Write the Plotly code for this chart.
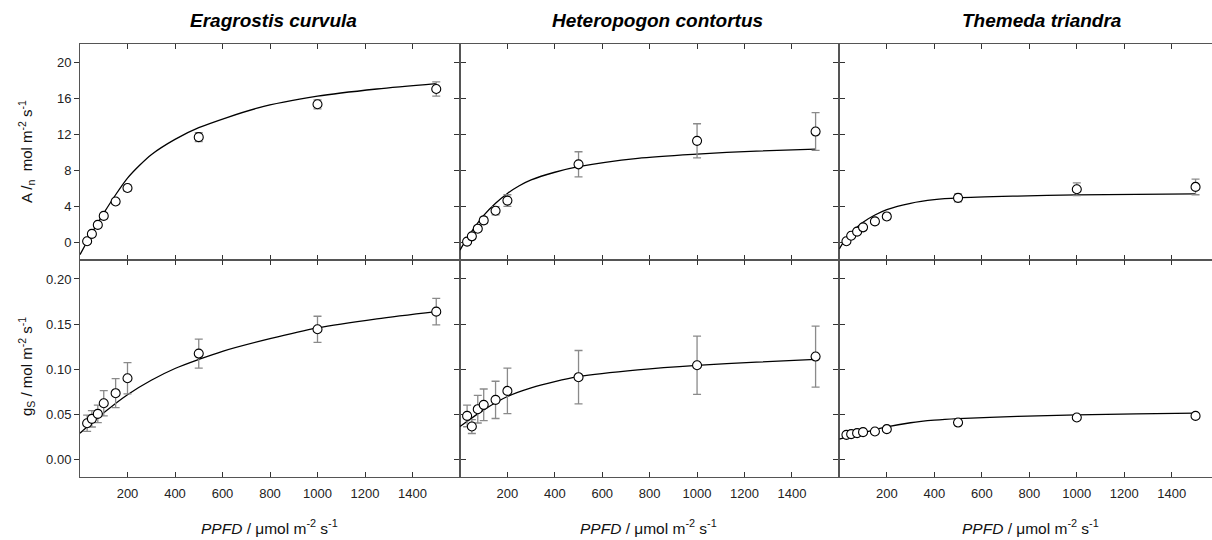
import plotly.graph_objects as go
from plotly.subplots import make_subplots

# ---------------- data ----------------
species = ["Eragrostis curvula", "Heteropogon contortus", "Themeda triandra"]
ppfd = [30, 50, 75, 100, 150, 200, 500, 1000, 1500]

# net assimilation (means and error)
an_era = [0.18, 1.0, 2.0, 3.0, 4.6, 6.1, 11.75, 15.4, 17.1]
an_era_se = [0.2, 0.2, 0.25, 0.3, 0.3, 0.35, 0.5, 0.5, 0.8]
an_het = [0.14, 0.73, 1.58, 2.5, 3.57, 4.7, 8.73, 11.34, 12.37]
an_het_se = [0.2, 0.25, 0.3, 0.35, 0.45, 0.65, 1.4, 1.9, 2.1]
an_the = [0.18, 0.8, 1.25, 1.73, 2.39, 2.94, 5.0, 5.96, 6.22]
an_the_se = [0.15, 0.2, 0.25, 0.25, 0.3, 0.35, 0.45, 0.7, 0.87]

# stomatal conductance (means and error)
gs_era = [0.0405, 0.0453, 0.0508, 0.0626, 0.0737, 0.0902, 0.1175, 0.1444, 0.1639]
gs_era_se = [0.009, 0.009, 0.0097, 0.014, 0.016, 0.0173, 0.016, 0.0144, 0.0147]
gs_het = [0.0486, 0.0368, 0.056, 0.0608, 0.0663, 0.0762, 0.0914, 0.1046, 0.1142]
gs_het_se = [0.012, 0.0077, 0.0153, 0.0175, 0.0206, 0.0252, 0.0295, 0.0322, 0.0337]
gs_the = [0.0276, 0.0284, 0.0295, 0.0306, 0.0313, 0.0339, 0.0412, 0.0468, 0.0486]
gs_the_se = [0.0012, 0.0012, 0.0012, 0.0015, 0.0015, 0.0018, 0.002, 0.002, 0.002]

# fitted curves
fit_an_era_x = [0, 25, 50, 100, 150, 200, 250, 300, 400, 500, 750, 1000, 1250, 1500]
fit_an_era_y = [-1.3, -0.1, 1.1, 3.3, 5.35, 7.2, 8.6, 9.8, 11.5, 12.8, 15.0, 16.3, 17.1, 17.7]
fit_an_het_x = [0, 25, 50, 100, 150, 200, 250, 300, 400, 500, 750, 1000, 1250, 1500]
fit_an_het_y = [-0.8, 0.3, 1.3, 3.05, 4.4, 5.5, 6.35, 7.0, 7.85, 8.47, 9.4, 9.87, 10.2, 10.42]
fit_an_the_x = [0, 25, 50, 100, 150, 200, 300, 400, 500, 750, 1000, 1250, 1500]
fit_an_the_y = [-0.67, 0.4, 1.15, 2.3, 3.1, 3.7, 4.4, 4.8, 5.0, 5.2, 5.33, 5.4, 5.45]

fit_gs_era_x = [0, 100, 200, 300, 400, 500, 600, 800, 1000, 1250, 1500]
fit_gs_era_y = [0.0295, 0.052, 0.072, 0.088, 0.101, 0.111, 0.12, 0.134, 0.146, 0.156, 0.164]
fit_gs_het_x = [0, 100, 200, 300, 400, 500, 750, 1000, 1250, 1500]
fit_gs_het_y = [0.0368, 0.0552, 0.070, 0.0795, 0.0865, 0.092, 0.0995, 0.1045, 0.108, 0.111]
fit_gs_the_x = [0, 100, 200, 300, 400, 500, 750, 1000, 1250, 1500]
fit_gs_the_y = [0.0228, 0.030, 0.0365, 0.041, 0.0438, 0.0455, 0.048, 0.0497, 0.0508, 0.0516]

x_ticks = [200, 400, 600, 800, 1000, 1200, 1400]
an_ticks = [0, 4, 8, 12, 16, 20]
gs_ticks = [0.0, 0.05, 0.10, 0.15, 0.20]

an_title = "A /<sub>n</sub>  mol m<sup>-2</sup> s<sup>-1</sup>"
gs_title = "g<sub>S</sub> / mol m<sup>-2</sup> s<sup>-1</sup>"
x_title = "<i>PPFD</i> / \u03bcmol m<sup>-2</sup> s<sup>-1</sup>"

# ---------------- figure ----------------
FONT = "Liberation Sans, Arial, Helvetica, sans-serif"
W, H = 1212, 540
L, R, T, B = 80, 0, 44, 63
PW = W - L - R
PH = H - T - B

fig = make_subplots(rows=2, cols=3, horizontal_spacing=0, vertical_spacing=0)

panels = [
    (1, 1, an_era, an_era_se, fit_an_era_x, fit_an_era_y),
    (1, 2, an_het, an_het_se, fit_an_het_x, fit_an_het_y),
    (1, 3, an_the, an_the_se, fit_an_the_x, fit_an_the_y),
    (2, 1, gs_era, gs_era_se, fit_gs_era_x, fit_gs_era_y),
    (2, 2, gs_het, gs_het_se, fit_gs_het_x, fit_gs_het_y),
    (2, 3, gs_the, gs_the_se, fit_gs_the_x, fit_gs_the_y),
]

for r, c, ym, yse, fx, fy in panels:
    fig.add_trace(go.Scatter(x=fx, y=fy, mode="lines",
                             line=dict(color="black", width=1.3, shape="spline", smoothing=0.8),
                             showlegend=False, hoverinfo="skip"), row=r, col=c)
    fig.add_trace(go.Scatter(x=ppfd, y=ym, mode="markers",
                             marker=dict(symbol="circle", size=9, color="white",
                                         line=dict(color="black", width=1.1)),
                             error_y=dict(type="data", array=yse, visible=True, color="#8a8a8a",
                                          thickness=1.3, width=4),
                             showlegend=False), row=r, col=c)

# domains in pixels
x_px = [(80, 460), (460, 839.3), (839.3, 1212)]
x_dom = [((a - L) / PW, (b - L) / PW) for a, b in x_px]
x_rng = [[0, 1600], [0, 1600], [0, (1212 - 839.3) / 0.2375]]
y_dom = {1: ((477 - 260) / PH, 1.0), 2: (0.0, (477 - 260) / PH)}

axis_line = dict(showline=True, linecolor="#555", linewidth=1, showgrid=False, zeroline=False)
tickfont = dict(family=FONT, size=13, color="#222")

for r in (1, 2):
    for c in (1, 2, 3):
        fig.update_xaxes(row=r, col=c, domain=list(x_dom[c - 1]), range=x_rng[c - 1],
                         tickvals=x_ticks, ticks="inside", ticklen=5, tickwidth=1.2, tickcolor="#333",
                         mirror="ticks", showticklabels=(r == 2), tickfont=tickfont, ticklabelstandoff=4,
                         **axis_line)
        if r == 1:
            fig.update_yaxes(row=r, col=c, domain=list(y_dom[r]), range=[-1.9, 22.1], tickvals=an_ticks)
        else:
            fig.update_yaxes(row=r, col=c, domain=list(y_dom[r]), range=[-0.019, 0.221], tickvals=gs_ticks,
                             tickformat=".2f")
        fig.update_yaxes(row=r, col=c, ticks="outside", ticklen=5, tickwidth=1.2, tickcolor="#333",
                         mirror=("ticks" if c < 3 else False), showticklabels=(c == 1), tickfont=tickfont,
                         **axis_line)

annotations = []
title_px = [273, 657.5, 1042]
xt_px = [269.5, 648, 1030]
for name, tx, xx in zip(species, title_px, xt_px):
    annotations.append(dict(text="<b><i>%s</i></b>" % name, x=(tx - L) / PW, y=(H - B - 21) / PH,
                            xref="paper", yref="paper", showarrow=False, xanchor="center", yanchor="middle",
                            font=dict(family=FONT, size=19, color="black")))
    annotations.append(dict(text=x_title, x=(xx - L) / PW, y=(H - B - 527) / PH,
                            xref="paper", yref="paper", showarrow=False, xanchor="center", yanchor="middle",
                            font=dict(family=FONT, size=15.5, color="#111")))
annotations.append(dict(text=an_title, x=(26 - L) / PW, y=(H - B - 152) / PH, textangle=-90,
                        xref="paper", yref="paper", showarrow=False, xanchor="center", yanchor="middle",
                        font=dict(family=FONT, size=15, color="#111")))
annotations.append(dict(text=gs_title, x=(26 - L) / PW, y=(H - B - 367) / PH, textangle=-90,
                        xref="paper", yref="paper", showarrow=False, xanchor="center", yanchor="middle",
                        font=dict(family=FONT, size=15, color="#111")))

fig.update_layout(width=W, height=H, margin=dict(l=L, r=R, t=T, b=B),
                  paper_bgcolor="white", plot_bgcolor="white", annotations=annotations,
                  font=dict(family=FONT))

fig.write_html("out.html", config={"displayModeBar": False},
               post_script="document.body.style.margin='0';document.body.style.overflow='hidden';")
